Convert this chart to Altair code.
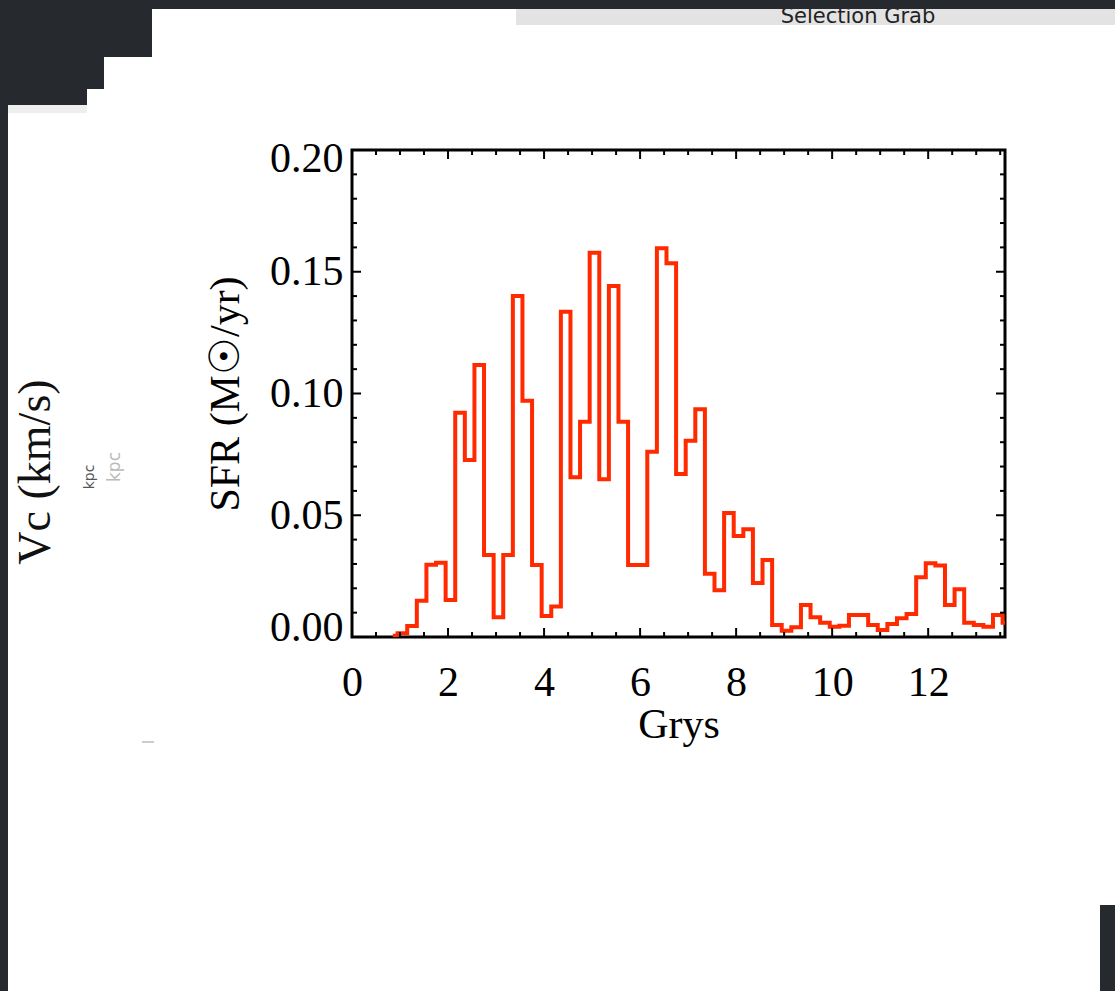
import altair as alt
import pandas as pd

# ---------------- data ----------------
gyr = [0.85, 1.05, 1.25, 1.45, 1.65, 1.85, 2.05, 2.25, 2.45, 2.65,
       2.85, 3.05, 3.25, 3.45, 3.65, 3.85, 4.05, 4.25, 4.45, 4.65,
       4.85, 5.05, 5.25, 5.45, 5.65, 5.85, 6.05, 6.25, 6.45, 6.65,
       6.85, 7.05, 7.25, 7.45, 7.65, 7.85, 8.05, 8.25, 8.45, 8.65,
       8.85, 9.05, 9.25, 9.45, 9.65, 9.85, 10.05, 10.25, 10.45, 10.65,
       10.85, 11.05, 11.25, 11.45, 11.65, 11.85, 12.05, 12.25, 12.45, 12.65,
       12.85, 13.05, 13.25, 13.45, 13.65]
sfr = [0.0005, 0.0015, 0.0045, 0.0149, 0.0297, 0.0305, 0.0152, 0.0921, 0.0727, 0.1117,
       0.0337, 0.0081, 0.0337, 0.1400, 0.0970, 0.0296, 0.0086, 0.0125, 0.1336, 0.0656,
       0.0884, 0.1578, 0.0648, 0.1441, 0.0884, 0.0296, 0.0296, 0.0761, 0.1596, 0.1535,
       0.0669, 0.0806, 0.0935, 0.0260, 0.0192, 0.0509, 0.0415, 0.0442, 0.0222, 0.0316,
       0.0049, 0.0026, 0.0040, 0.0131, 0.0081, 0.0059, 0.0042, 0.0046, 0.0090, 0.0090,
       0.0049, 0.0029, 0.0053, 0.0077, 0.0094, 0.0245, 0.0303, 0.0294, 0.0131, 0.0196,
       0.0059, 0.0049, 0.0042, 0.0090, 0.0059]

x_major = [0, 2, 4, 6, 8, 10, 12]
x_minor = [0.5, 1, 1.5, 2.5, 3, 3.5, 4.5, 5, 5.5, 6.5, 7, 7.5, 8.5, 9, 9.5,
           10.5, 11, 11.5, 12.5, 13, 13.5]
y_major = [0.0, 0.05, 0.10, 0.15, 0.20]
y_minor = [0.01, 0.02, 0.03, 0.04, 0.06, 0.07, 0.08, 0.09, 0.11, 0.12, 0.13, 0.14,
           0.16, 0.17, 0.18, 0.19]

x_title = "Grys"
y_title = "SFR (M\u2609/yr)"

# ---------------- layout / style ----------------
W, H = 653, 487
OX, OY = 352, 150
TOTAL_W, TOTAL_H = 1115, 991
FONT = "Liberation Serif"
FS = 42
RED = "#ff2a00"
DARK = "#262a2f"

xs = alt.Scale(domain=[0, 13.6], nice=False, zero=False)
ys = alt.Scale(domain=[0, 0.2], nice=False, zero=False)

x_axis = alt.Axis(
    values=x_major, format="d", ticks=False, domain=False, grid=False,
    labelFont=FONT, labelFontSize=FS, labelColor="black", labelPadding=25,
    labelFlush=False, labelOverlap=False,
    title=x_title, titleFont=FONT, titleFontSize=FS, titleFontWeight="normal",
    titleColor="black", titlePadding=1)
y_axis = alt.Axis(
    values=y_major, format=".2f", ticks=False, domain=False, grid=False,
    labelFont=FONT, labelFontSize=FS, labelColor="black", labelPadding=9,
    labelFlush=True, labelFlushOffset=12, labelOverlap=False,
    title=y_title, titleFont=FONT, titleFontSize=FS, titleFontWeight="normal",
    titleColor="black", titlePadding=22)

df = pd.DataFrame({"Gyr": gyr, "SFR": sfr})

line = alt.Chart(df).mark_line(
    interpolate="step", color=RED, strokeWidth=4, clip=True
).encode(
    x=alt.X("Gyr:Q", scale=xs, axis=x_axis),
    y=alt.Y("SFR:Q", scale=ys, axis=y_axis),
)


def y_ticks(vals, length, side):
    d = pd.DataFrame({"SFR": vals})
    x0, x1 = (0, length) if side == "left" else (W, W - length)
    return alt.Chart(d).mark_rule(color="black", strokeWidth=2).encode(
        y=alt.Y("SFR:Q", scale=ys, axis=y_axis), x=alt.value(x0), x2=alt.value(x1))


def x_ticks(vals, length, side):
    d = pd.DataFrame({"Gyr": vals})
    y0, y1 = (H, H - length) if side == "bottom" else (0, length)
    return alt.Chart(d).mark_rule(color="black", strokeWidth=2).encode(
        x=alt.X("Gyr:Q", scale=xs, axis=x_axis), y=alt.value(y0), y2=alt.value(y1))


ticks = [
    y_ticks(y_major, 9, "left"), y_ticks(y_minor, 5, "left"),
    y_ticks(y_major, 9, "right"), y_ticks(y_minor, 5, "right"),
    x_ticks(x_major, 9, "bottom"), x_ticks(x_minor, 5, "bottom"),
    x_ticks(x_major, 9, "top"), x_ticks(x_minor, 5, "top"),
]

# ---------------- screenshot surroundings (decoration) ----------------
one = alt.Data(values=[{}])


def rect(x0, y0, x1, y1, color):
    return alt.Chart(one).mark_rect(color=color).encode(
        x=alt.value(x0 - OX), x2=alt.value(x1 - OX),
        y=alt.value(y0 - OY), y2=alt.value(y1 - OY))


def label(txt, x, y, size, color, font, angle=0, baseline="middle", weight="normal"):
    return alt.Chart(one).mark_text(
        text=txt, font=font, fontSize=size, color=color, angle=angle,
        align="center", baseline=baseline, fontWeight=weight
    ).encode(x=alt.value(x - OX), y=alt.value(y - OY))


deco = [
    rect(516, 9, TOTAL_W, 25, "#e3e3e3"),
    label("Selection Grab", 858, 23, 21, "#222222", "DejaVu Sans", baseline="alphabetic"),
    rect(0, 0, TOTAL_W, 9, DARK),
    rect(0, 0, 152, 57, DARK),
    rect(0, 57, 104, 89, DARK),
    rect(0, 89, 87, 105, DARK),
    rect(0, 105, 8, TOTAL_H, DARK),
    rect(8, 105, 87, 113, "#eeeeee"),
    rect(1100, 905, TOTAL_W, TOTAL_H, DARK),
    label("Vc (km/s)", 36, 472, 46, "#111111", FONT, angle=270),
    label("kpc", 90, 477, 14, "#555555", "DejaVu Sans", angle=270),
    label("kpc", 115, 467, 17, "#bbbbbb", "DejaVu Sans", angle=270),
    rect(142, 741, 154, 743, "#cccccc"),
]

chart = alt.layer(line, *ticks, *deco).properties(
    width=W, height=H,
    autosize="none",
    padding={"left": OX, "top": OY, "right": TOTAL_W - OX - W, "bottom": TOTAL_H - OY - H},
    background="white",
).configure_view(stroke="black", strokeWidth=3)

chart.save("out.html", embed_options={"renderer": "svg", "actions": False})
